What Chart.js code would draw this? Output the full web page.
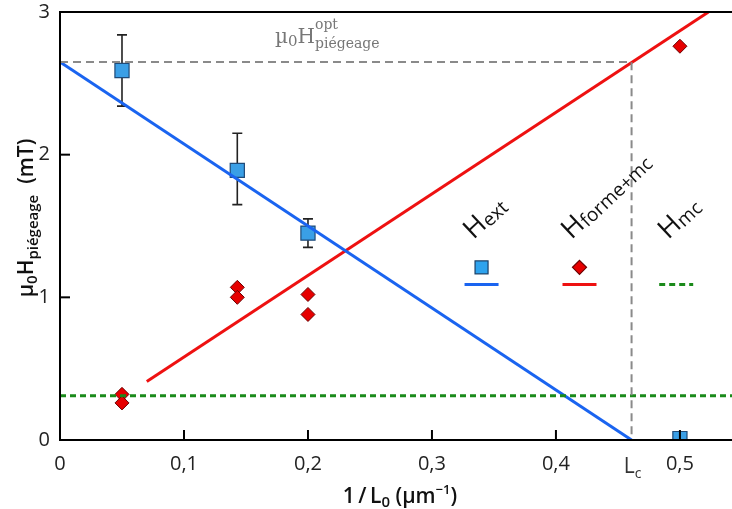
<!DOCTYPE html>
<html>
<head>
<meta charset="utf-8">
<script src="https://cdn.jsdelivr.net/npm/chart.js@4.4.0/dist/chart.umd.min.js"></script>
<style>
html, body { margin: 0; padding: 0; background: #fff; overflow: hidden; }
#wrap { width: 732px; height: 509px; }
</style>
</head>
<body>
<div id="wrap"><canvas id="chart"></canvas></div>
<script>
const FONT = "'Open Sans', sans-serif";
const SERIF = "'DejaVu Serif', serif";

// axis ticks
const xTicks = [0, 0.1, 0.2, 0.3, 0.4, 0.5];
const yTicks = [0, 1, 2, 3];
const xMax = 0.542;
const yMax = 3;
const Lc = 0.461;
const hOpt = 2.65;

// H_ext : measured squares with error bars
const extX = [0.05, 0.143, 0.2, 0.5];
const extY = [2.59, 1.89, 1.45, 0.01];
const extLo = [2.34, 1.65, 1.35, 0.0];
const extHi = [2.84, 2.15, 1.55, 0.04];

// H_forme+mc : diamonds
const formeX = [0.05, 0.05, 0.143, 0.143, 0.2, 0.2, 0.5];
const formeY = [0.32, 0.26, 1.07, 1.0, 1.02, 0.88, 2.76];

// fitted lines
const fitExtX = [0, Lc];
const fitExtY = [hOpt, 0];
const fitFormeX = [0.07, 0.523];
const fitFormeY = [0.41, 3];
const mcX = [0, xMax];
const mcY = [0.31, 0.31];

const toPts = (xs, ys) => xs.map((x, i) => ({ x: x, y: ys[i] }));

// draw a run of text pieces (for sub/superscripts)
function drawParts(ctx, parts, x, y, align, color) {
    let total = 0;
    const fontOf = p => `${p.w || 'normal'} ${p.s}px ${p.f || FONT}`;
    const widths = parts.map(p => {
        ctx.font = fontOf(p);
        const w = ctx.measureText(p.t).width;
        if (!p.stay) total += w;
        return w;
    });
    let cx = align === 'center' ? x - total / 2 : x;
    ctx.fillStyle = color;
    ctx.textAlign = 'left';
    ctx.textBaseline = 'alphabetic';
    parts.forEach((p, i) => {
        ctx.font = fontOf(p);
        ctx.fillText(p.t, cx, y + (p.dy || 0));
        if (!p.stay) cx += widths[i];
    });
}

const extras = {
    id: 'extras',
    beforeDatasetsDraw(chart) {
        const ctx = chart.ctx;
        const xs = chart.scales.x, ys = chart.scales.y;
        // error bars
        ctx.save();
        ctx.strokeStyle = '#222';
        ctx.lineWidth = 1.6;
        extX.forEach((x, i) => {
            const px = xs.getPixelForValue(x);
            const lo = ys.getPixelForValue(extLo[i]);
            const hi = ys.getPixelForValue(extHi[i]);
            ctx.beginPath();
            ctx.moveTo(px, lo); ctx.lineTo(px, hi);
            ctx.moveTo(px - 5, lo); ctx.lineTo(px + 5, lo);
            ctx.moveTo(px - 5, hi); ctx.lineTo(px + 5, hi);
            ctx.stroke();
        });
        ctx.restore();
    },
    afterDraw(chart) {
        const ctx = chart.ctx;
        const a = chart.chartArea;
        const xs = chart.scales.x, ys = chart.scales.y;
        ctx.save();
        // frame
        ctx.strokeStyle = '#000';
        ctx.lineWidth = 2;
        ctx.beginPath();
        ctx.moveTo(a.right, a.top); ctx.lineTo(a.left, a.top);
        ctx.lineTo(a.left, a.bottom); ctx.lineTo(a.right, a.bottom);
        ctx.stroke();
        // inward ticks
        xTicks.slice(1).forEach(v => {
            const px = xs.getPixelForValue(v);
            ctx.beginPath(); ctx.moveTo(px, a.bottom); ctx.lineTo(px, a.bottom - 10); ctx.stroke();
        });
        [1, 2].forEach(v => {
            const py = ys.getPixelForValue(v);
            ctx.beginPath(); ctx.moveTo(a.left, py); ctx.lineTo(a.left + 10, py); ctx.stroke();
        });

        // Lc label
        drawParts(ctx, [{ t: 'L', s: 21 }, { t: 'c', s: 14, dy: 5 }], xs.getPixelForValue(Lc) + 1, a.bottom + 33, 'center', '#333');

        // x title
        drawParts(ctx, [
            { t: '1\u2009/\u2009L', s: 21, w: '600' }, { t: '0', s: 15, dy: 4, w: '600' },
            { t: ' (µm', s: 21, w: '600' }, { t: '−1', s: 13, dy: -9, w: '600' }, { t: ')', s: 21, w: '600' }
        ], 400, 503, 'center', '#111');

        // y title
        ctx.save();
        ctx.translate(33, 218);
        ctx.rotate(-Math.PI / 2);
        drawParts(ctx, [
            { t: 'µ', s: 21, w: '600' }, { t: '0', s: 15, dy: 4, w: '600' }, { t: 'H', s: 21, w: '600' },
            { t: 'piégeage', s: 15, dy: 5, w: '600' }, { t: '  (mT)', s: 21, w: '600' }
        ], 0, 0, 'center', '#111');
        ctx.restore();

        // optimum label
        drawParts(ctx, [
            { t: 'µ', s: 20, f: SERIF }, { t: '0', s: 15, dy: 3, f: SERIF }, { t: 'H', s: 20, f: SERIF },
            { t: 'opt', s: 14, dy: -14, stay: true, f: SERIF }, { t: 'piégeage', s: 14, dy: 5, f: SERIF }
        ], 275, 43, 'left', '#777');

        // legend
        const legend = [
            { x: 0.34, parts: [{ t: 'H', s: 27 }, { t: 'ext', s: 19, dy: 2 }] },
            { x: 0.419, parts: [{ t: 'H', s: 27 }, { t: 'forme+mc', s: 19, dy: 2 }] },
            { x: 0.497, parts: [{ t: 'H', s: 27 }, { t: 'mc', s: 19, dy: 2 }] }
        ];
        legend.forEach(l => {
            const px = xs.getPixelForValue(l.x);
            ctx.save();
            ctx.translate(px - 8, 240);
            ctx.rotate(-Math.PI * 0.24);
            drawParts(ctx, l.parts, 0, 0, 'left', '#111');
            ctx.restore();
        });
        const ly = ys.getPixelForValue(1.09);
        const my = ys.getPixelForValue(1.21);
        const lineSeg = (cx, color, dash) => {
            ctx.save();
            ctx.strokeStyle = color; ctx.lineWidth = 3; ctx.setLineDash(dash);
            ctx.beginPath(); ctx.moveTo(cx - 17, ly); ctx.lineTo(cx + 17, ly); ctx.stroke();
            ctx.restore();
        };
        let cx = xs.getPixelForValue(legend[0].x);
        lineSeg(cx, '#1a64f0', []);
        ctx.fillStyle = '#2ea3ee'; ctx.strokeStyle = '#1b3f66'; ctx.lineWidth = 1.2;
        ctx.fillRect(cx - 6.5, my - 6.5, 13, 13); ctx.strokeRect(cx - 6.5, my - 6.5, 13, 13);
        cx = xs.getPixelForValue(legend[1].x);
        lineSeg(cx, '#ee1111', []);
        ctx.fillStyle = '#e60000'; ctx.strokeStyle = '#6a0000';
        ctx.beginPath();
        ctx.moveTo(cx, my - 7); ctx.lineTo(cx + 7, my); ctx.lineTo(cx, my + 7); ctx.lineTo(cx - 7, my);
        ctx.closePath(); ctx.fill(); ctx.stroke();
        cx = xs.getPixelForValue(legend[2].x);
        lineSeg(cx, '#1a8a1a', [6, 4]);
        ctx.restore();
    }
};

new Chart(document.getElementById('chart'), {
    type: 'scatter',
    data: {
        datasets: [
            {
                label: 'opt', data: [{ x: 0, y: hOpt }, { x: Lc, y: hOpt }, { x: Lc, y: 0 }],
                showLine: true, borderColor: '#8a8a8a', borderWidth: 2, borderDash: [8, 5],
                pointRadius: 0
            },
            {
                label: 'mc', data: toPts(mcX, mcY), showLine: true,
                borderColor: '#1a8a1a', borderWidth: 3, borderDash: [6, 4], pointRadius: 0
            },
            {
                label: 'fit ext', data: toPts(fitExtX, fitExtY), showLine: true,
                borderColor: '#1a64f0', borderWidth: 3, pointRadius: 0
            },
            {
                label: 'fit forme', data: toPts(fitFormeX, fitFormeY), showLine: true,
                borderColor: '#ee1111', borderWidth: 3, pointRadius: 0
            },
            {
                label: 'H ext', data: toPts(extX, extY), pointStyle: 'rect', pointRadius: 10,
                backgroundColor: '#3a9fe6', borderColor: '#1f4a78', borderWidth: 1.2
            },
            {
                label: 'H forme+mc', data: toPts(formeX, formeY), pointStyle: 'rectRot', pointRadius: 7,
                backgroundColor: '#e60000', borderColor: '#6a0000', borderWidth: 1
            }
        ]
    },
    options: {
        responsive: true,
        maintainAspectRatio: false,
        animation: false,
        layout: { autoPadding: false, padding: { top: 12, right: 0, left: 0, bottom: 0 } },
        plugins: { legend: { display: false }, tooltip: { enabled: false } },
        scales: {
            x: {
                type: 'linear', min: 0, max: xMax,
                afterBuildTicks: s => { s.ticks = xTicks.map(v => ({ value: v })); },
                afterFit: s => { s.height = 69; s.paddingLeft = 0; s.paddingRight = 0; },
                grid: { display: false, drawTicks: false },
                border: { display: false },
                ticks: {
                    padding: 12, color: '#222', font: { family: FONT, size: 20 },
                    callback: v => String(v).replace('.', ',')
                }
            },
            y: {
                type: 'linear', min: 0, max: yMax,
                afterBuildTicks: s => { s.ticks = yTicks.map(v => ({ value: v })); },
                afterFit: s => { s.width = 60; s.paddingTop = 0; s.paddingBottom = 0; },
                grid: { display: false, drawTicks: false },
                border: { display: false },
                ticks: { padding: 10, color: '#222', font: { family: FONT, size: 20 } }
            }
        }
    },
    plugins: [extras]
});
</script>
</body>
</html>
